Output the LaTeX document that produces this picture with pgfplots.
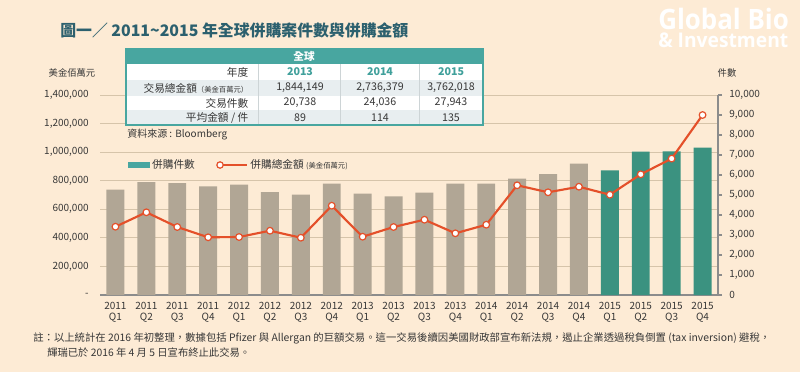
\documentclass[border=0pt]{standalone}
\usepackage{pgfplots}
\pgfplotsset{compat=1.18}
\usepackage{graphicx}
\usepackage{fontspec}
\setmainfont{Noto Sans CJK TC}
\newfontfamily\logofont{Open Sans}
\definecolor{bg}{RGB}{253,235,213}
\definecolor{gridc}{RGB}{214,196,170}
\definecolor{axisc}{RGB}{140,140,140}
\definecolor{txt}{RGB}{55,55,55}
\definecolor{barg}{RGB}{177,166,149}
\definecolor{bart}{RGB}{59,146,128}
\definecolor{linec}{RGB}{228,80,42}
\definecolor{titlec}{RGB}{44,96,110}
\definecolor{tealh}{RGB}{72,166,160}
\definecolor{rowg}{RGB}{232,238,240}
\definecolor{sepc}{RGB}{205,212,214}
\definecolor{yearc}{RGB}{64,160,155}
\begin{document}
\begin{tikzpicture}
\begin{scope}[x=0.75pt,y=-0.75pt]
\fill[bg] (0,0) rectangle (800,372);
\end{scope}
% axis A: left scale, grid
\begin{axis}[at={(75pt,-221.25pt)}, anchor=south west, scale only axis,
 width=463.5pt, height=150pt,
 xmin=-0.5, xmax=19.5, ymin=0, ymax=1400000,
 axis line style={draw=none}, xtick=\empty,
 ytick={0,200000,400000,600000,800000,1000000,1200000,1400000},
 yticklabels={-,{200,000},{400,000},{600,000},{800,000},{1,000,000},{1,200,000},{1,400,000}},
 ymajorgrids, grid style={gridc,line width=0.6pt},
 major tick length=0pt,
 yticklabel style={font=\fontsize{7.5}{9}\selectfont, text=txt, anchor=east, xshift=-5pt},
 scaled y ticks=false, clip=false]
\end{axis}
% axis B: bars, right scale
\begin{axis}[at={(75pt,-221.25pt)}, anchor=south west, scale only axis,
 width=463.5pt, height=150pt,
 xmin=-0.5, xmax=19.5, ymin=0, ymax=10000,
 axis y line*=right, axis x line*=bottom,
 axis line style={draw=axisc, line width=0.8pt, -},
 ytick={0,1000,2000,3000,4000,5000,6000,7000,8000,9000,10000},
 yticklabels={0,{1,000},{2,000},{3,000},{4,000},{5,000},{6,000},{7,000},{8,000},{9,000},{10,000}},
 tick align=outside, major tick length=3pt,
 ytick style={draw=axisc, line width=0.8pt},
 yticklabel style={font=\fontsize{7.5}{9}\selectfont, text=txt, anchor=west, xshift=2pt},
 xtick={0,1,2,3,4,5,6,7,8,9,10,11,12,13,14,15,16,17,18,19},
 xticklabels={{2011\\Q1},{2011\\Q2},{2011\\Q3},{2011\\Q4},{2012\\Q1},{2012\\Q2},{2012\\Q3},{2012\\Q4},{2013\\Q1},{2013\\Q2},{2013\\Q3},{2013\\Q4},{2014\\Q1},{2014\\Q2},{2014\\Q3},{2014\\Q4},{2015\\Q1},{2015\\Q2},{2015\\Q3},{2015\\Q4}},
 xticklabel style={align=center, font=\fontsize{7.5}{8.2}\selectfont, text=txt, yshift=1pt},
 xtick style={draw=none},
 scaled y ticks=false, clip=false]
\addplot[ybar, bar width=0.58, bar shift=0pt, fill=barg, draw=none] coordinates {
(0,5270) (1,5650) (2,5600) (3,5430) (4,5520) (5,5150) (6,5020) (7,5570)
(8,5070) (9,4930) (10,5120) (11,5570) (12,5570) (13,5820) (14,6050) (15,6570)};
\addplot[ybar, bar width=0.58, bar shift=0pt, fill=bart, draw=none] coordinates {
(16,6230) (17,7170) (18,7180) (19,7370)};
\end{axis}
% axis C: line
\begin{axis}[at={(75pt,-221.25pt)}, anchor=south west, scale only axis,
 width=463.5pt, height=150pt,
 xmin=-0.5, xmax=19.5, ymin=0, ymax=1400000, hide axis, clip=false,
 legend style={at={(0.039,0.65)}, anchor=west, draw=none, fill=none,
   font=\fontsize{8}{9}\selectfont, text=txt, legend columns=2,
   /tikz/every even column/.append style={column sep=14pt}},
 legend cell align=left]
\addlegendimage{legend image code/.code={\fill[tealh] (0pt,-1.8pt) rectangle (15.5pt,1.8pt);}}
\addlegendentry{併購件數}
\addplot[linec, line width=1.6pt, mark=*, mark size=2.5pt,
 mark options={fill=white, draw=linec, line width=0.9pt},
 legend image code/.code={\draw[linec, line width=1.6pt] (0pt,0pt) -- (22pt,0pt);
   \draw[linec, fill=white, line width=0.9pt] (2pt,0pt) circle (2.4pt);}]
 coordinates {
(0,478000) (1,579000) (2,476000) (3,404000) (4,406000) (5,450000) (6,401000) (7,625000)
(8,408000) (9,476000) (10,527000) (11,432000) (12,492000) (13,768000) (14,719000) (15,758000)
(16,702000) (17,845000) (18,955000) (19,1260000)};
\addlegendentry{併購總金額 {\fontsize{5.5}{6}\selectfont (美金佰萬元)}}
\end{axis}
\begin{scope}[x=0.75pt,y=-0.75pt]
% title
\node[anchor=west, inner sep=0, text=titlec, font=\fontsize{11.9}{14}\selectfont\bfseries] at (60,30) {圖一／ 2011\textasciitilde2015 年全球併購案件數與併購金額};
% logo
\node[anchor=north west, inner sep=0, text=white, align=left] at (658,8) {\resizebox{98pt}{16pt}{\logofont\bfseries Global Bio}\\[1.5pt]\resizebox{97.5pt}{11pt}{\logofont\bfseries \& Investment}};
% axis titles
\node[text=txt, font=\fontsize{7}{8}\selectfont] at (72,73) {美金佰萬元};
\node[text=txt, font=\fontsize{7}{8}\selectfont] at (727,73) {件數};
% table
\fill[white] (126,64) rectangle (483,125);
\fill[rowg] (126,80) rectangle (483,95.7);
\fill[rowg] (126,110) rectangle (483,125);
\fill[tealh] (126,49.3) rectangle (483,64);
\draw[sepc, line width=0.6pt] (258.5,64) -- (258.5,125) (340.5,64) -- (340.5,125) (419,64) -- (419,125);
\draw[tealh, line width=1.4pt] (126,49.3) rectangle (483,125);
\node[text=white, font=\fontsize{8}{9}\selectfont\bfseries] at (304,56.7) {全球};
\begin{scope}[every node/.style={font=\fontsize{8}{9}\selectfont, text=txt}]
\node[anchor=east] at (253,72) {年度};
\node[anchor=east] at (253,88) {交易總金額{\fontsize{5.5}{6}\selectfont（美金百萬元）}};
\node[anchor=east] at (253,103) {交易件數};
\node[anchor=east] at (253,117.5) {平均金額 / 件};
\node[text=yearc, font=\fontsize{8}{9}\selectfont\bfseries] at (300,72) {2013};
\node[text=yearc, font=\fontsize{8}{9}\selectfont\bfseries] at (380,72) {2014};
\node[text=yearc, font=\fontsize{8}{9}\selectfont\bfseries] at (451,72) {2015};
\node at (300,88) {1,844,149};
\node at (380,88) {2,736,379};
\node at (451,88) {3,762,018};
\node at (300,103) {20,738};
\node at (380,103) {24,036};
\node at (451,103) {27,943};
\node at (300,117.5) {89};
\node at (380,117.5) {114};
\node at (451,117.5) {135};
\end{scope}
\node[anchor=west, inner sep=0, text=txt, font=\fontsize{7.5}{9}\selectfont] at (127,135) {資料來源 : Bloomberg};
% footnote
\node[anchor=west, inner sep=0, text=txt, font=\fontsize{7.6}{9}\selectfont] at (33,338) {\resizebox{552.75pt}{!}{註：以上統計在 2016 年初整理，數據包括 Pfizer 與 Allergan 的巨額交易。這一交易後續因美國財政部宣布新法規，遏止企業透過稅負倒置 (tax inversion) 避稅，}};
\node[anchor=west, inner sep=0, text=txt, font=\fontsize{7.6}{9}\selectfont] at (47,353) {\resizebox{152.25pt}{!}{輝瑞已於 2016 年 4 月 5 日宣布終止此交易。}};
\end{scope}
\end{tikzpicture}
\end{document}
